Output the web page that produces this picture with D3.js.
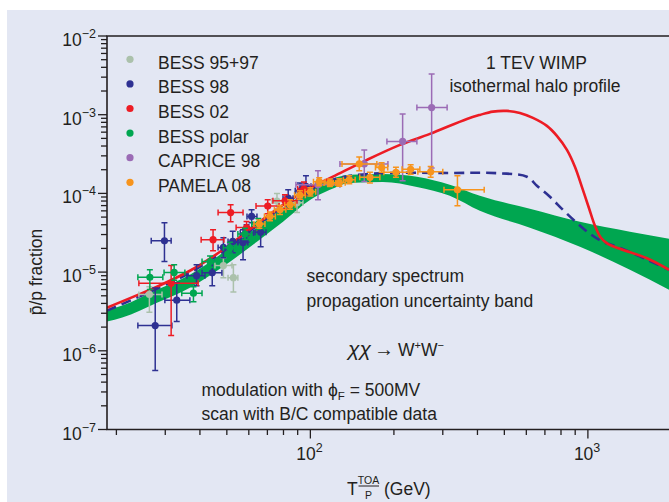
<!DOCTYPE html>
<html>
<head>
<meta charset="utf-8">
<script src="https://cdn.jsdelivr.net/npm/d3@7"></script>
<style>
  body { margin: 0; background: #ffffff; }
  svg { display: block; }
  text { font-family: "Liberation Sans", Arial, sans-serif; fill: #231f20; }
</style>
</head>
<body>
<svg id="chart" width="669" height="502"></svg>
<script>
// ---- data -------------------------------------------------------------
// kinetic energy grid and bounds of the secondary-production band
const bandE  = [18.5, 21, 28, 36.8, 48.4, 64.2, 79.7, 100, 117.6, 138.9, 182.6, 242, 318, 408, 618, 936, 1417, 1960];
const bandHi = [3.24e-6, 3.75e-6, 5.98e-6, 9.27e-6, 1.76e-5, 3.66e-5, 6.56e-5, 1.11e-4, 1.49e-4, 1.72e-4, 1.77e-4, 1.63e-4, 1.29e-4, 9.33e-5, 6.38e-5, 4.36e-5, 3.26e-5, 2.65e-5];
const bandLo = [2.35e-6, 2.64e-6, 4.09e-6, 6.34e-6, 1.17e-5, 2.43e-5, 4.36e-5, 8.30e-5, 1.11e-4, 1.36e-4, 1.40e-4, 1.21e-4, 9.33e-5, 6.01e-5, 3.66e-5, 2.10e-5, 1.07e-5, 5.98e-6];

// secondary + 1 TeV WIMP signal (solid red)
const wimpE = [18.5, 28, 36.8, 48.4, 64.2, 79.7, 100, 120.6, 159.9, 210.3, 269.7, 366.6, 408, 454.8, 510.8, 568.9, 633.8, 711.6, 773.2, 840.3, 897.9, 951.4, 1008, 1060, 1114, 1180, 1304, 1632, 1960];
const wimpF = [3.53e-6, 6.53e-6, 1.04e-5, 1.92e-5, 4.11e-5, 7.16e-5, 1.18e-4, 1.63e-4, 2.67e-4, 4.14e-4, 5.71e-4, 8.84e-4, 9.94e-4, 1.095e-3, 1.117e-3, 1.054e-3, 9.11e-4, 7.21e-4, 5.38e-4, 3.57e-4, 2.18e-4, 1.21e-4, 6.57e-5, 3.88e-5, 2.73e-5, 2.29e-5, 1.98e-5, 1.50e-5, 1.07e-5];

// alternative propagation model (dashed navy)
const altE = [18.5, 28, 36.8, 48.4, 64.2, 79.7, 100, 117.6, 138.9, 178.1, 318, 482, 603, 655, 729.7, 812.8, 912.7, 1017, 1133, 1304, 1632, 1960];
const altF = [3.24e-6, 6.15e-6, 9.82e-6, 1.82e-5, 3.88e-5, 6.76e-5, 1.11e-4, 1.45e-4, 1.67e-4, 1.80e-4, 1.82e-4, 1.80e-4, 1.63e-4, 1.25e-4, 9.06e-5, 6.19e-5, 4.23e-5, 3.07e-5, 2.43e-5, 2.04e-5, 1.44e-5, 1.07e-5];

// measurements: [E, ratio, E low, E high, ratio low, ratio high]
const bess9597 = [
  [26.3, 5.2e-6, 24.1, 29.2, 3.1e-6, 6.5e-6],
  [48.6, 1.21e-5, 45.3, 52.2, 8.5e-6, 1.52e-5],
  [52.8, 8.5e-6, 50.5, 54.8, 5.6e-6, 1.24e-5],
  [75.8, 8.0e-5, 72.7, 79.7, 6.2e-5, 1.0e-4],
  [89.5, 7.6e-5, 85.2, 94.0, 5.7e-5, 1.05e-4]
];
const bess98 = [
  [27.6, 2.09e-6, 23.9, 31.7, 5.6e-7, 6.3e-6],
  [29.8, 2.5e-5, 26.7, 31.5, 1.36e-5, 4.23e-5],
  [33.0, 4.4e-6, 29.9, 36.8, 2.35e-6, 7.3e-6],
  [38.9, 9.0e-6, 35.9, 41.7, 6.7e-6, 1.24e-5],
  [44.3, 9.8e-6, 40.7, 48.0, 6.7e-6, 1.36e-5],
  [48.6, 2.06e-5, 46.5, 50.5, 1.52e-5, 2.73e-5],
  [52.5, 2.45e-5, 50.5, 54.8, 1.76e-5, 3.3e-5],
  [57.2, 2.38e-5, 54.8, 59.5, 1.44e-5, 3.45e-5],
  [58.9, 3.13e-5, 55.9, 62.4, 2.4e-5, 4.0e-5],
  [61.4, 5.1e-5, 59.1, 64.2, 4.23e-5, 6.19e-5],
  [66.2, 3.2e-5, 63.2, 69.2, 2.1e-5, 4.36e-5],
  [83.2, 8.7e-5, 79.7, 86.6, 6.8e-5, 1.11e-4],
  [91.7, 1.08e-4, 88.2, 95.6, 8.3e-5, 1.36e-4],
  [96.4, 1.23e-4, 92.5, 100.5, 9.6e-5, 1.67e-4]
];
const bess02 = [
  [31.5, 7.2e-6, 24.1, 39.4, 1.56e-6, 1.21e-5],
  [44.6, 2.58e-5, 40.4, 48.8, 1.87e-5, 3.45e-5],
  [51.6, 5.7e-5, 46.5, 57.2, 4.36e-5, 7.17e-5],
  [58.9, 3.68e-5, 54.0, 64.2, 3.0e-5, 4.4e-5],
  [70.2, 6.9e-5, 63.7, 77.1, 5.5e-5, 8.3e-5],
  [81.0, 8.05e-5, 73.3, 89.5, 6.4e-5, 9.6e-5],
  [94.8, 1.14e-4, 90.0, 100, 9.4e-5, 1.4e-4]
];
const bessPolar = [
  [26.4, 8.6e-6, 23.9, 29.4, 6.0e-6, 1.07e-5],
  [32.3, 9.9e-6, 29.7, 35.3, 7.9e-6, 1.24e-5],
  [37.9, 5.4e-6, 34.4, 40.7, 4.2e-6, 6.5e-6],
  [43.5, 1.36e-5, 40.7, 46.5, 1.15e-5, 1.6e-5],
  [51.3, 2.04e-5, 48.6, 54.0, 1.75e-5, 2.4e-5],
  [58.1, 3.04e-5, 54.8, 61.5, 2.6e-5, 3.6e-5],
  [64.9, 4.08e-5, 61.5, 68.2, 3.5e-5, 4.8e-5]
];
const caprice98 = [
  [106.5, 1.29e-4, 88.7, 127.8, 8.3e-5, 1.94e-4],
  [156.4, 2.37e-4, 127.8, 190.3, 1.42e-4, 3.57e-4],
  [215, 4.58e-4, 188.7, 242, 1.45e-4, 1.02e-3],
  [273.5, 1.23e-3, 242, 311, 2.11e-4, 3.3e-3]
];
const pamela08 = [
  [65.5, 4.08e-5, 62.6, 68.6, 3.6e-5, 4.6e-5],
  [71.5, 5.1e-5, 68.3, 74.8, 4.5e-5, 5.8e-5],
  [77.7, 6.2e-5, 74.2, 81.6, 5.4e-5, 7.0e-5],
  [84.5, 7.2e-5, 80.8, 88.2, 6.3e-5, 8.3e-5],
  [91.7, 9.5e-5, 87.7, 95.9, 8.4e-5, 1.08e-4],
  [100, 1.05e-4, 95.6, 104.5, 9.3e-5, 1.18e-4],
  [107.6, 1.41e-4, 102.6, 113, 1.25e-4, 1.58e-4],
  [117.6, 1.36e-4, 112, 123.5, 1.22e-4, 1.52e-4],
  [127.1, 1.37e-4, 121, 133.5, 1.23e-4, 1.53e-4],
  [138.1, 1.49e-4, 131.5, 145, 1.33e-4, 1.67e-4],
  [150, 2.37e-4, 130, 173.6, 1.94e-4, 2.9e-4],
  [163.9, 1.60e-4, 150.6, 178, 1.36e-4, 1.85e-4],
  [180.6, 2.14e-4, 171.6, 190, 1.86e-4, 2.45e-4],
  [203.4, 1.85e-4, 184, 226, 1.6e-4, 2.15e-4],
  [229.8, 2.02e-4, 214, 248, 1.75e-4, 2.32e-4],
  [271.3, 1.88e-4, 244, 300, 1.6e-4, 2.2e-4],
  [338.8, 1.11e-4, 303, 423, 6.96e-5, 1.67e-4]
];

const seriesNames  = ["BESS 95+97", "BESS 98", "BESS 02", "BESS polar", "CAPRICE 98", "PAMELA 08"];
const seriesColors = ["#abc1ab", "#2e3192", "#ed1c24", "#00a650", "#9b6bb5", "#f7941d"];
const seriesData   = [bess9597, bess98, bess02, bessPolar, caprice98, pamela08];

const xMajorTicks = [100, 1000];
const xMinorTicks = [20, 30, 40, 50, 60, 70, 80, 90, 200, 300, 400, 500, 600, 700, 800, 900];
const yExponents  = [-2, -3, -4, -5, -6, -7];

// ---- layout ------------------------------------------------------------
const svg = d3.select("#chart");
const plot = { left: 107, right: 669, top: 36, bottom: 429.5 };
const ink = "#231f20";

const x = d3.scaleLog().domain([18.5, 1960]).range([plot.left, plot.right]);
const y = d3.scaleLog().domain([1e-7, 1e-2]).range([plot.bottom, plot.top]);

// panel background
svg.append("rect").attr("x", 7).attr("y", 10).attr("width", 662).attr("height", 492).attr("fill", "#e3e7f3");

svg.append("defs").append("clipPath").attr("id", "plotclip")
  .append("rect").attr("x", plot.left).attr("y", plot.top)
  .attr("width", plot.right - plot.left).attr("height", plot.bottom - plot.top);

const g = svg.append("g").attr("clip-path", "url(#plotclip)");

// uncertainty band
const bandRows = bandE.map((e, i) => ({ e, hi: bandHi[i], lo: bandLo[i] }));
g.append("path")
  .datum(bandRows)
  .attr("fill", "#00a650")
  .attr("d", d3.area().curve(d3.curveMonotoneX)
    .x(d => x(d.e)).y0(d => y(d.lo)).y1(d => y(d.hi)));

// model curves
const lineGen = d3.line().curve(d3.curveCatmullRom.alpha(0.5)).x(d => x(d[0])).y(d => y(d[1]));
g.append("path")
  .datum(altE.map((e, i) => [e, altF[i]]))
  .attr("fill", "none").attr("stroke", "#2e3192").attr("stroke-width", 2.6)
  .attr("stroke-dasharray", "10,6")
  .attr("d", lineGen);
g.append("path")
  .datum(wimpE.map((e, i) => [e, wimpF[i]]))
  .attr("fill", "none").attr("stroke", "#ed1c24").attr("stroke-width", 2.6)
  .attr("d", lineGen);

// measurements with error bars
const cap = 3;
seriesData.forEach((data, si) => {
  const col = seriesColors[si];
  const sg = g.append("g").attr("stroke", col).attr("fill", col).attr("stroke-width", 1.5);
  const pts = sg.selectAll("g.pt").data(data).join("g").attr("class", "pt");
  pts.append("line")
    .attr("x1", d => x(d[2])).attr("x2", d => x(d[3]))
    .attr("y1", d => y(d[1])).attr("y2", d => y(d[1]));
  pts.append("line")
    .attr("x1", d => x(d[0])).attr("x2", d => x(d[0]))
    .attr("y1", d => y(d[4])).attr("y2", d => y(d[5]));
  // caps
  pts.append("line")
    .attr("x1", d => x(d[2])).attr("x2", d => x(d[2]))
    .attr("y1", d => y(d[1]) - cap).attr("y2", d => y(d[1]) + cap);
  pts.append("line")
    .attr("x1", d => x(d[3])).attr("x2", d => x(d[3]))
    .attr("y1", d => y(d[1]) - cap).attr("y2", d => y(d[1]) + cap);
  pts.append("line")
    .attr("x1", d => x(d[0]) - cap).attr("x2", d => x(d[0]) + cap)
    .attr("y1", d => y(d[4])).attr("y2", d => y(d[4]));
  pts.append("line")
    .attr("x1", d => x(d[0]) - cap).attr("x2", d => x(d[0]) + cap)
    .attr("y1", d => y(d[5])).attr("y2", d => y(d[5]));
  pts.append("circle")
    .attr("cx", d => x(d[0])).attr("cy", d => y(d[1])).attr("r", 3.6).attr("stroke", "none");
});

// ---- axes --------------------------------------------------------------
const axes = svg.append("g").attr("stroke", ink).attr("stroke-width", 1.6).attr("fill", "none");
axes.append("path")
  .attr("d", `M${plot.right},${plot.top}H${plot.left}V${plot.bottom}H${plot.right}`);

// y ticks (log minor ticks between decades)
const yTicks = [];
for (let e = -7; e < -2; e++) for (let k = 1; k <= 9; k++) yTicks.push(k * Math.pow(10, e));
yTicks.push(1e-2);
axes.selectAll("line.yt").data(yTicks).join("line")
  .attr("x1", plot.left)
  .attr("x2", d => plot.left - (Math.abs(Math.log10(d) - Math.round(Math.log10(d))) < 1e-9 ? 9 : 6))
  .attr("y1", d => y(d)).attr("y2", d => y(d))
  .attr("stroke-width", 1.3);

// x ticks
axes.selectAll("line.xm").data(xMinorTicks).join("line")
  .attr("x1", d => x(d)).attr("x2", d => x(d))
  .attr("y1", plot.bottom).attr("y2", plot.bottom + 5.5).attr("stroke-width", 1.3);
axes.selectAll("line.xM").data(xMajorTicks).join("line")
  .attr("x1", d => x(d)).attr("x2", d => x(d))
  .attr("y1", plot.bottom).attr("y2", plot.bottom + 9).attr("stroke-width", 1.3);

// y tick labels
yExponents.forEach(ex => {
  const t = svg.append("text")
    .attr("x", 96).attr("y", y(Math.pow(10, ex)) + 10)
    .attr("text-anchor", "end").attr("font-size", 17.5);
  t.append("tspan").text("10");
  t.append("tspan").attr("dy", -8).attr("font-size", 12.5).text("\u2212" + Math.abs(ex));
});

// x tick labels
xMajorTicks.forEach(v => {
  const t = svg.append("text")
    .attr("x", x(v) - 14).attr("y", 460).attr("font-size", 17.5);
  t.append("tspan").text("10");
  t.append("tspan").attr("dy", -8).attr("font-size", 12.5).text(String(Math.round(Math.log10(v))));
});

// axis titles
svg.append("text")
  .attr("transform", "translate(42,272) rotate(-90)")
  .attr("text-anchor", "middle").attr("font-size", 17.5)
  .text("p\u0304/p fraction");

svg.append("text").attr("x", 347).attr("y", 495).attr("font-size", 17.5).text("T");
svg.append("text").attr("x", 368.5).attr("y", 483.5).attr("text-anchor", "middle").attr("font-size", 10.5).text("TOA");
svg.append("line").attr("x1", 358.5).attr("x2", 379).attr("y1", 486).attr("y2", 486)
  .attr("stroke", ink).attr("stroke-width", 1);
svg.append("text").attr("x", 368.5).attr("y", 498.5).attr("text-anchor", "middle").attr("font-size", 10.5).text("P");
svg.append("text").attr("x", 384).attr("y", 495).attr("font-size", 17.5).text("(GeV)");

// ---- legend ------------------------------------------------------------
const legend = svg.append("g");
seriesNames.forEach((name, i) => {
  const cy = 59.3 + 24.6 * i;
  legend.append("circle").attr("cx", 130).attr("cy", cy).attr("r", 3.6).attr("fill", seriesColors[i]);
  legend.append("text").attr("x", 158).attr("y", cy + 9.5).attr("font-size", 17.5).text(name);
});

// ---- annotations -------------------------------------------------------
const note = (tx, ty, str, anchor) =>
  svg.append("text").attr("x", tx).attr("y", ty).attr("font-size", 17.5)
     .attr("text-anchor", anchor || "start").text(str);

note(536.5, 69.3, "1 TEV WIMP", "middle");
note(535, 92, "isothermal halo profile", "middle");
note(306.5, 282, "secondary spectrum");
note(306.5, 306.5, "propagation uncertainty band");

const chi = svg.append("text").attr("x", 348).attr("y", 355.5).attr("font-size", 17.5);
chi.append("tspan").attr("font-size", 21).attr("font-style", "italic").text("\u03c7\u03c7");
chi.append("tspan").attr("font-size", 20).attr("dx", 3).text("\u2192");
chi.append("tspan").attr("dx", 4).text("W");
chi.append("tspan").attr("dy", -7).attr("font-size", 11).text("+");
chi.append("tspan").attr("dy", 7).text("W");
chi.append("tspan").attr("dy", -7).attr("font-size", 11).text("\u2212");

const mod = svg.append("text").attr("x", 201.5).attr("y", 396).attr("font-size", 17.5);
mod.append("tspan").text("modulation with \u03d5");
mod.append("tspan").attr("dy", 4).attr("font-size", 11.5).text("F");
mod.append("tspan").attr("dy", -4).text(" = 500MV");
note(201.5, 419.5, "scan with B/C compatible data");
</script>
</body>
</html>
